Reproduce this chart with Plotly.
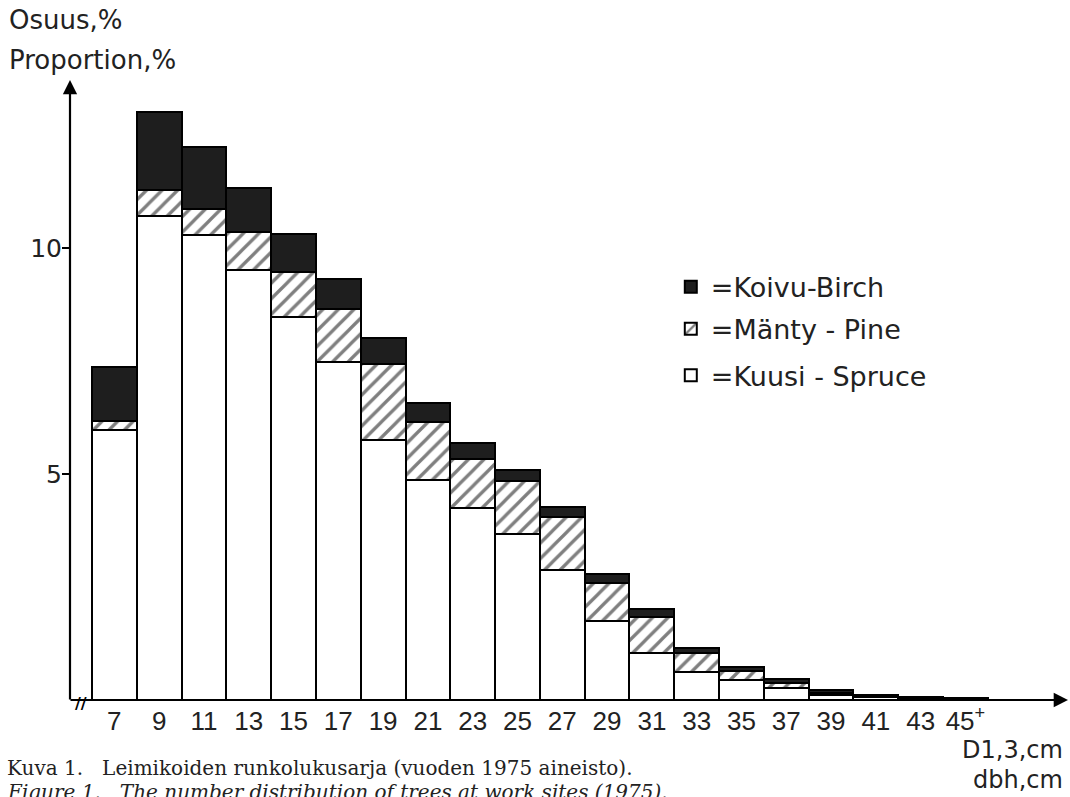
import plotly.graph_objects as go

categories = ["7", "9", "11", "13", "15", "17", "19", "21", "23", "25",
              "27", "29", "31", "33", "35", "37", "39", "41", "43", "45+"]
tick_labels = ["7", "9", "11", "13", "15", "17", "19", "21", "23", "25",
               "27", "29", "31", "33", "35", "37", "39", "41", "43", "45<sup>+</sup>"]
spruce = [5.98, 10.72, 10.30, 9.51, 8.48, 7.47, 5.75, 4.86, 4.25, 3.68,
          2.87, 1.74, 1.04, 0.63, 0.44, 0.26, 0.10, 0.06, 0.04, 0.02]
pine = [0.20, 0.57, 0.56, 0.85, 0.99, 1.19, 1.69, 1.29, 1.09, 1.16,
        1.17, 0.86, 0.79, 0.41, 0.21, 0.11, 0.06, 0.03, 0.02, 0.01]
birch = [1.20, 1.73, 1.37, 0.97, 0.84, 0.65, 0.56, 0.43, 0.35, 0.26,
         0.22, 0.19, 0.18, 0.11, 0.09, 0.10, 0.06, 0.03, 0.01, 0.02]

LABEL_FONT = "DejaVu Sans"
NARROW_FONT = "Liberation Sans Narrow, Liberation Sans, Arial"
SERIF = "DejaVu Serif, Liberation Serif, serif"

fig = go.Figure()
outline = dict(color="black", width=2)
fig.add_trace(go.Bar(x=categories, y=spruce, name="=Kuusi - Spruce",
                     marker=dict(color="white", line=outline),
                     legend="legend3"))
fig.add_trace(go.Bar(x=categories, y=pine, name="=Mänty - Pine",
                     marker=dict(color="white", line=outline,
                                 pattern=dict(shape="/", fgcolor="black", bgcolor="white",
                                              size=11, solidity=0.3, fillmode="overlay")),
                     legend="legend2"))
fig.add_trace(go.Bar(x=categories, y=birch, name="=Koivu-Birch",
                     marker=dict(color="#1e1e1e", line=outline),
                     legend="legend"))

leg_common = dict(font=dict(family=LABEL_FONT, size=27, color="#222"),
                  bgcolor="rgba(0,0,0,0)", xanchor="left", yanchor="middle",
                  itemwidth=30, borderwidth=0)
fig.update_layout(
    width=1070, height=797,
    margin=dict(l=70, r=2, t=80, b=97),
    paper_bgcolor="white", plot_bgcolor="white",
    barmode="stack", bargap=0,
    showlegend=True,
    legend=dict(x=0.602, y=0.666, **leg_common),
    legend2=dict(x=0.602, y=0.598, **leg_common),
    legend3=dict(x=0.602, y=0.523, **leg_common),
    xaxis=dict(range=[-0.99, 21.29], tickvals=categories, ticktext=tick_labels,
               showgrid=False, zeroline=False, showline=False, ticks="",
               ticklabelstandoff=3,
               tickfont=dict(family=NARROW_FONT, size=26, color="#222")),
    yaxis=dict(range=[0, 13.72], tickvals=[5, 10], showgrid=False, zeroline=False,
               showline=False, ticks="outside", ticklen=7, tickwidth=2, tickcolor="black",
               ticklabelstandoff=-5,
               tickfont=dict(family=LABEL_FONT, size=25, color="#222")),
)

# axis arrows
fig.add_annotation(xref="paper", yref="paper", x=0, y=1, ax=0, ay=621,
                   showarrow=True, arrowhead=2, arrowsize=1.3, arrowwidth=2.2,
                   arrowcolor="black", text="")
fig.add_annotation(xref="paper", yref="paper", x=1, y=0, ax=-999, ay=0,
                   showarrow=True, arrowhead=2, arrowsize=1.3, arrowwidth=2.2,
                   arrowcolor="black", text="")
# axis break mark
fig.add_annotation(xref="paper", yref="paper", x=0.003, y=-0.006, text="<b>//</b>",
                   showarrow=False, font=dict(family="DejaVu Sans", size=16, color="black"),
                   xanchor="left", yanchor="middle")

# axis titles
fig.add_annotation(xref="paper", yref="paper", x=-0.063, y=1.097, xanchor="left", yanchor="middle",
                   text="Osuus,%", showarrow=False,
                   font=dict(family=LABEL_FONT, size=26, color="#222"))
fig.add_annotation(xref="paper", yref="paper", x=-0.063, y=1.032, xanchor="left", yanchor="middle",
                   text="Proportion,%", showarrow=False,
                   font=dict(family=LABEL_FONT, size=26, color="#222"))
fig.add_annotation(xref="paper", yref="paper", x=0.997, y=-0.081, xanchor="right", yanchor="middle",
                   text="D1,3,cm", showarrow=False,
                   font=dict(family=LABEL_FONT, size=24, color="#222"))
fig.add_annotation(xref="paper", yref="paper", x=0.997, y=-0.129, xanchor="right", yanchor="middle",
                   text="dbh,cm", showarrow=False,
                   font=dict(family=LABEL_FONT, size=24, color="#222"))

# caption
fig.add_annotation(xref="paper", yref="paper", x=-0.065, y=-0.109, xanchor="left", yanchor="middle",
                   text="Kuva 1.   Leimikoiden runkolukusarja (vuoden 1975 aineisto).",
                   showarrow=False, font=dict(family=SERIF, size=20, color="#222"))
fig.add_annotation(xref="paper", yref="paper", x=-0.065, y=-0.148, xanchor="left", yanchor="middle",
                   text="<i>Figure 1.   The number distribution of trees at work sites (1975).</i>",
                   showarrow=False, font=dict(family=SERIF, size=20, color="#222"))

fig.write_html("out.html")
